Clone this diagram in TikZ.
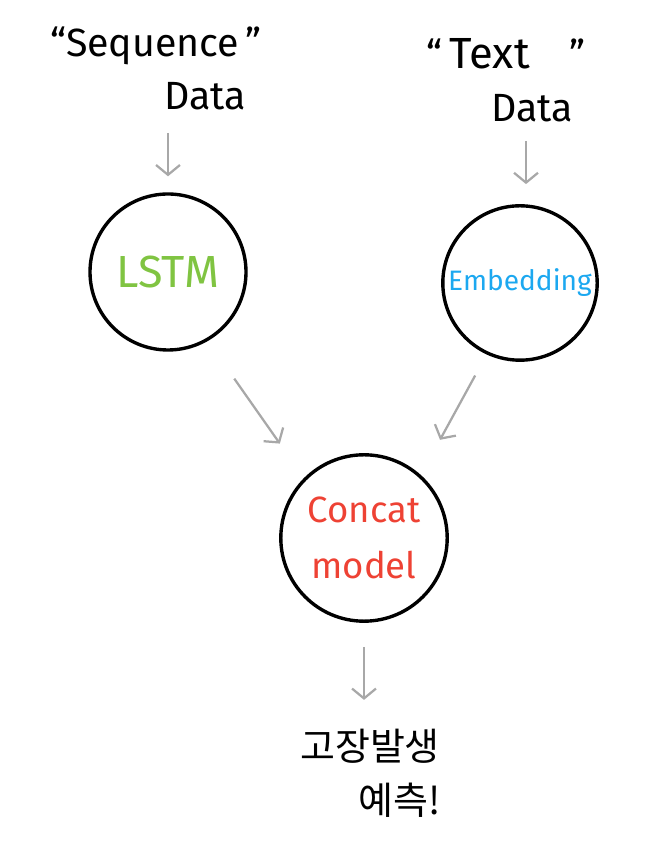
\documentclass[tikz,border=0pt]{standalone}
\usepackage{fontspec}
\setmainfont{Fira Sans}
\newfontfamily\kofont{Noto Sans CJK KR}
\usetikzlibrary{arrows.meta}
\tikzset{>={Straight Barb[length=7pt,width=17pt]}}
\definecolor{lstmgreen}{RGB}{128,196,66}
\definecolor{embblue}{RGB}{28,168,240}
\definecolor{concatred}{RGB}{238,66,52}
\definecolor{arrowgray}{RGB}{168,168,168}
\tikzset{
    blob/.style={draw, line width=2.4pt, circle, inner sep=0pt},
    flow/.style={->, arrowgray, line width=1.6pt},
    hand/.style={font=\fontsize{28}{30}\selectfont}
}

\begin{document}
\begin{tikzpicture}
    \useasboundingbox(0, 0)rectangle(16.35, 21.25);
    % inputs
    \node[hand](seqword)at(3.9, 20.1){``Sequence\,''};
    \node[hand](seqdata)at(5.125, 18.85){Data};
    \node[hand](txtword)at(12.65, 19.9){``\,{\fontsize{31}{33}\selectfont Text}\quad''};
    \node[hand](txtdata)at(13.3, 18.55){Data};
    % models
    \node[blob, minimum size=3.9cm, text=lstmgreen, font=\fontsize{32}{34}\selectfont](lstm)at(4.2, 14.45){LSTM};
    \node[blob, minimum size=3.86cm, text=embblue, font=\fontsize{20}{22}\selectfont](emb)at(13.0, 14.175){Embedding};
    \node[blob, minimum size=4.16cm, text=concatred, align=center, font=\fontsize{26}{40}\selectfont](concat)at(9.1, 7.8){Concat\\model};
    % output
    \node[font=\kofont\fontsize{27}{30}\selectfont](fault)at(9.25, 2.6){고장발생};
    \node[font=\kofont\fontsize{27}{30}\selectfont](predict)at(10.0, 1.25){예측!};
    % arrows
    \draw[flow, shorten <=0.45cm, shorten >=0.4cm](seqdata.south -| lstm.north)--(lstm.north);
    \draw[flow, shorten <=0.35cm, shorten >=0.5cm](txtdata.south -| 13.15, 0)--(13.15, 0 |- emb.north);
    \draw[flow, shorten <=1.15cm, shorten >=1.05cm](lstm.-60)--(concat.135);
    \draw[flow, shorten <=0.6cm, shorten >=1.0cm](emb.-115)--(concat.48);
    \draw[flow, shorten <=0.6cm, shorten >=0.6cm](concat.south)--(concat.south |- fault.north);
\end{tikzpicture}
\end{document}
